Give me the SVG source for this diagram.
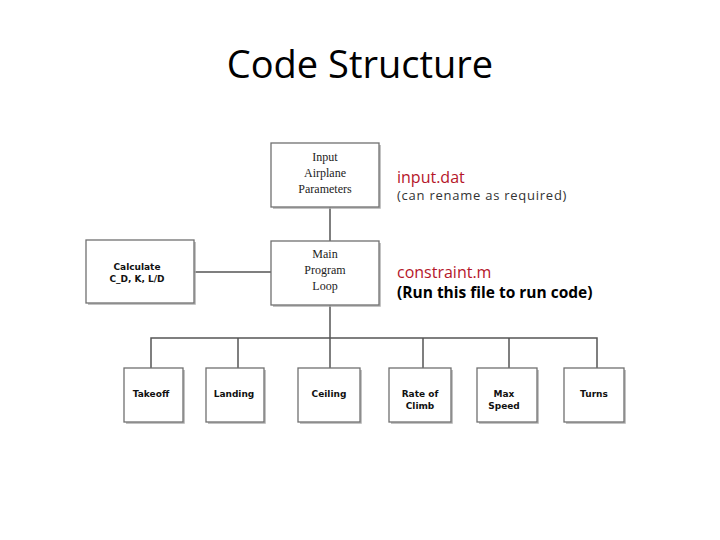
<svg xmlns="http://www.w3.org/2000/svg" width="720" height="540" viewBox="0 0 720 540">
<style>
.box{fill:#fff;stroke:#707070;stroke-width:1.3}
.sh{fill:none;stroke:#b0b0b0;stroke-width:1.5}
.ser{font-family:"Liberation Serif",serif;font-size:12px;fill:#222;text-anchor:middle}
.lbl{font-family:"DejaVu Sans",sans-serif;font-size:9px;font-weight:bold;fill:#111;text-anchor:middle}
.ln{fill:none;stroke:#555;stroke-width:1.5}
.red{font-family:"Open Sans",sans-serif;font-size:16px;fill:#b5162a}
</style>
<rect width="720" height="540" fill="#fff"/>
<text x="360" y="78" font-family="Open Sans, sans-serif" font-size="38" text-anchor="middle" fill="#000">Code Structure</text>
<g id="connectors">
<line class="ln" x1="330" y1="207" x2="330" y2="241"/>
<line class="ln" x1="194" y1="272" x2="271" y2="272"/>
<line class="ln" x1="330" y1="305" x2="330" y2="338"/>
<polyline class="ln" points="151,368 151,338 597,338 597,368"/>
<line class="ln" x1="238" y1="338" x2="238" y2="368"/>
<line class="ln" x1="330" y1="338" x2="330" y2="368"/>
<line class="ln" x1="423" y1="338" x2="423" y2="368"/>
<line class="ln" x1="509" y1="338" x2="509" y2="368"/>
</g>
<g id="input">
<polyline class="sh" points="273,208 380,208 380,145"/>
<rect class="box" x="271" y="143" width="108" height="64"/>
<text class="ser" x="325" y="161">Input</text>
<text class="ser" x="325" y="177">Airplane</text>
<text class="ser" x="325" y="193">Parameters</text>
</g>
<g id="main">
<polyline class="sh" points="273,306 380,306 380,243"/>
<rect class="box" x="271" y="241" width="108" height="64"/>
<text class="ser" x="325" y="258">Main</text>
<text class="ser" x="325" y="274">Program</text>
<text class="ser" x="325" y="290">Loop</text>
</g>
<g id="calc">
<polyline class="sh" points="88,304 195,304 195,242"/>
<rect class="box" x="86" y="240" width="108" height="63"/>
<text class="lbl" x="137" y="270">Calculate</text>
<text class="lbl" x="137" y="282">C_D, K, L/D</text>
</g>
<g id="takeoff">
<polyline class="sh" points="126,423 184,423 184,370"/>
<rect class="box" x="124" y="368" width="59" height="54"/>
<text class="lbl" x="151" y="397">Takeoff</text>
</g>
<g id="landing">
<polyline class="sh" points="208,423 265,423 265,370"/>
<rect class="box" x="206" y="368" width="58" height="54"/>
<text class="lbl" x="234" y="397">Landing</text>
</g>
<g id="ceiling">
<polyline class="sh" points="300,423 361,423 361,370"/>
<rect class="box" x="298" y="368" width="62" height="54"/>
<text class="lbl" x="329" y="397">Ceiling</text>
</g>
<g id="rate">
<polyline class="sh" points="391,423 452,423 452,370"/>
<rect class="box" x="389" y="368" width="62" height="54"/>
<text class="lbl" x="420" y="397">Rate of</text>
<text class="lbl" x="420" y="409">Climb</text>
</g>
<g id="maxspeed">
<polyline class="sh" points="479,423 538,423 538,370"/>
<rect class="box" x="477" y="368" width="60" height="54"/>
<text class="lbl" x="504" y="397">Max</text>
<text class="lbl" x="504" y="409">Speed</text>
</g>
<g id="turns">
<polyline class="sh" points="566,423 625,423 625,370"/>
<rect class="box" x="564" y="368" width="60" height="54"/>
<text class="lbl" x="594" y="397">Turns</text>
</g>
<g id="notes">
<text class="red" x="397" y="183">input.dat</text>
<text x="397" y="200" font-family="Open Sans, sans-serif" font-size="13" letter-spacing="0.75" fill="#333">(can rename as required)</text>
<text class="red" x="397" y="278">constraint.m</text>
<text x="397" y="298" font-family="Open Sans, sans-serif" font-size="15.5" font-weight="bold" fill="#000">(Run this file to run code)</text>
</g>
</svg>
